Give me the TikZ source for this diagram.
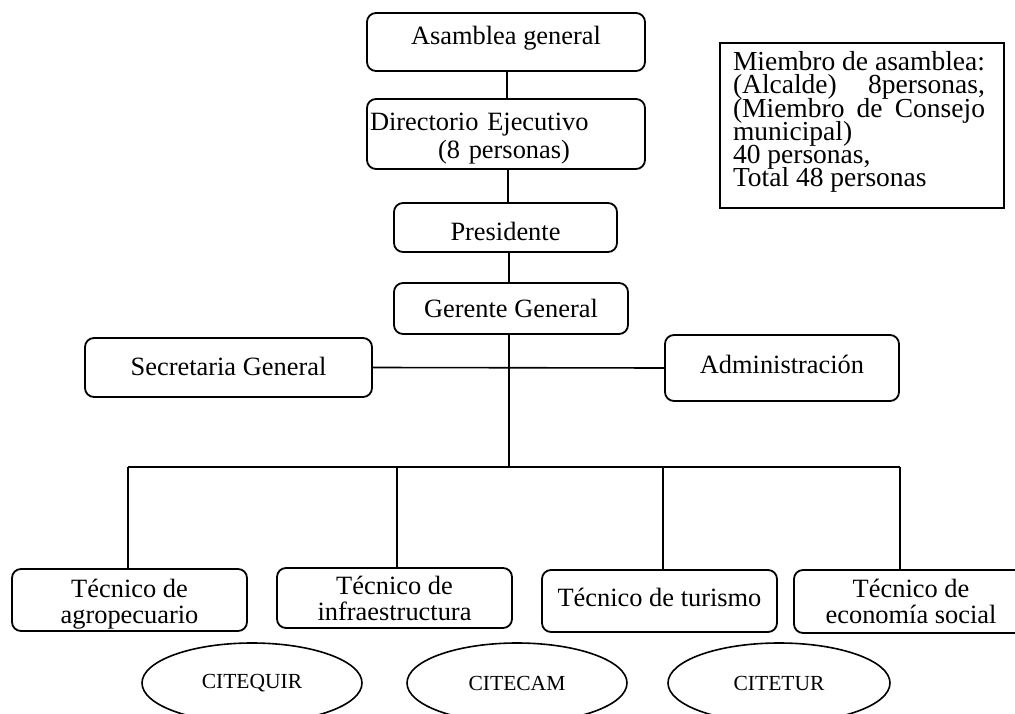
\documentclass[tikz,border=0pt]{standalone}
\usepackage{fontspec}
\setmainfont{Liberation Serif}
\usetikzlibrary{shapes.geometric}
\begin{document}
\begin{tikzpicture}[x=1pt,y=-1pt,
  orgbox/.style={draw, line width=1.8pt, rounded corners=9pt, inner sep=0pt,
    font=\fontsize{26.4}{26}\selectfont},
  twoline/.style={align=center},
  citeell/.style={draw, line width=1.6pt, ellipse, inner sep=0pt,
    minimum width=220pt, minimum height=80pt, font=\fontsize{21.5}{24}\selectfont},
  link/.style={line width=1.6pt}]
\useasboundingbox (0,0) rectangle (1015,714);

% top chain
\node[orgbox, minimum width=278pt, minimum height=58pt, text height=23pt, text depth=17pt] (asam) at (506,42) {Asamblea general};
\node[orgbox, minimum width=278pt, minimum height=70pt, text width=272pt, inner xsep=3pt, align=left,
  font=\fontsize{26.4}{28}\selectfont] (dir) at (506,134)
  {\rule{0pt}{26pt}Directorio Ejecutivo\\\hspace*{68pt}(8 personas)};
\node[orgbox, minimum width=223pt, minimum height=49pt, text height=33.5pt, text depth=6.5pt] (pres) at (505.5,227.5) {Presidente};
\node[orgbox, minimum width=234pt, minimum height=51pt, text height=28.5pt, text depth=11.5pt] (ger) at (511,308.5) {Gerente General};

\node[orgbox, minimum width=287pt, minimum height=59pt, text height=27.5pt, text depth=12.5pt] (sec) at (228.5,367.5) {Secretaria General};
\node[orgbox, minimum width=234pt, minimum height=66pt, text height=25pt, text depth=15pt] (adm) at (782,368) {Administración};

% info box
\node[draw, line width=1.6pt, minimum width=284pt, minimum height=165pt,
  inner xsep=13pt, inner ysep=0pt,
  font=\fontsize{27.5}{23.2}\selectfont] (info) at (862,125.5)
  {\vbox{\baselineskip=23.2pt\lineskiplimit=-100pt\lineskip=0pt
   \hbox to 258pt{Miembro\hfill de\hfill asamblea:\hskip 6pt}
   \hbox to 258pt{(Alcalde)\hfill 8personas,\hskip 6pt}
   \hbox to 258pt{(Miembro\hfill de\hfill Consejo\hskip 6pt}
   \hbox to 258pt{municipal)\hfil}
   \hbox to 258pt{40 personas,\hfil}
   \hbox to 258pt{Total 48 personas\hfil}
   \vskip 7pt}};

% bottom row
\node[orgbox, twoline, minimum width=235pt, minimum height=62pt] (agro) at (129.5,600) {\rule{0pt}{26pt}Técnico de\\agropecuario};
\node[orgbox, twoline, minimum width=235pt, minimum height=60pt] (infra) at (394.5,598) {Técnico de\\infraestructura};
\node[orgbox, minimum width=235pt, minimum height=62pt, text height=25pt, text depth=15pt] (tur) at (659.5,601) {Técnico de turismo};
\node[orgbox, twoline, minimum width=234pt, minimum height=63pt] (eco) at (911,601.5) {Técnico de\\economía social};

% ellipses
\node[citeell] (cq) at (252,683) {CITEQUIR};
\node[citeell] (cc) at (517,683) {CITECAM};
\node[citeell, minimum width=222pt] (ct) at (779,683) {CITETUR};

% connectors
\coordinate (b0) at (128,467);
\coordinate (b1) at (397,467);
\coordinate (b2) at (663,467);
\coordinate (b3) at (900,467);
\coordinate (bm) at (509,467);

\draw[link] (asam.south -| 507,0) -- (dir.north -| 507,0);
\draw[link] (dir.south -| 508,0) -- (pres.north -| 508,0);
\draw[link] (pres.south -| 509,0) -- (ger.north -| 509,0);
\draw[link] (ger.south -| bm) -- (bm);
\draw[link] (sec.east) -- (adm.west);
\draw[link] (b0) -- (b3);
\draw[link] (b0) -- (b0 |- agro.north);
\draw[link] (b1) -- (b1 |- infra.north);
\draw[link] (b2) -- (b2 |- tur.north);
\draw[link] (b3) -- (b3 |- eco.north);
\end{tikzpicture}
\end{document}
